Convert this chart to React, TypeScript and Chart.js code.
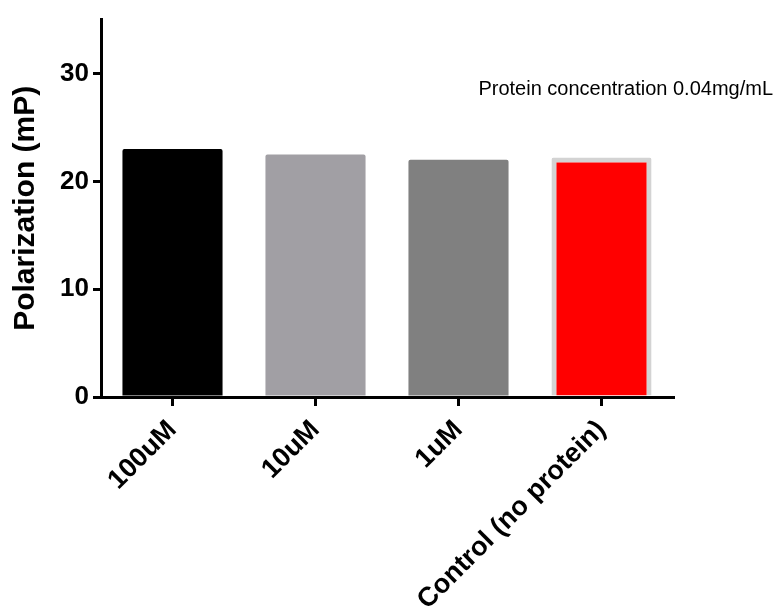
import React, { useEffect, useRef } from "react";
import { Chart, registerables } from "chart.js";

Chart.register(...registerables);

const categories = ["100uM", "10uM", "1uM", "Control (no protein)"];
const values = [23.0, 22.5, 22.0, 22.2];
const barColors = ["#000000", "#a19fa4", "#808080", "#ff0000"];
const barBorderColors = ["#000000", "#a19fa4", "#808080", "#d3d3d3"];
const barBorderWidths = [0, 0, 0, 5];
const yTicks = [0, 10, 20, 30];
const annotationText = "Protein concentration 0.04mg/mL";
const annotationValue = 28.5;

const FONT = "'Liberation Sans', Arial, Helvetica, sans-serif";

export default function App() {
  const ref = useRef<HTMLCanvasElement | null>(null);

  useEffect(() => {
    if (!ref.current) return;
    const annotate = {
      id: "annotate",
      afterDraw(chart: any) {
        const ctx = chart.ctx;
        const y = chart.scales.y.getPixelForValue(annotationValue);
        ctx.save();
        ctx.font = `20px ${FONT}`;
        ctx.fillStyle = "#000";
        ctx.textAlign = "right";
        ctx.textBaseline = "middle";
        ctx.fillText(annotationText, chart.width - 4, y);
        ctx.restore();
      },
    };
    const chart = new Chart(ref.current, {
      type: "bar",
      data: {
        labels: categories,
        datasets: [
          {
            data: values,
            backgroundColor: barColors,
            borderColor: barBorderColors,
            borderWidth: barBorderWidths,
            borderRadius: 2,
            borderSkipped: "start",
            categoryPercentage: 0.7,
            barPercentage: 1,
          },
        ],
      },
      options: {
        animation: false,
        responsive: false,
        maintainAspectRatio: false,
        layout: { padding: { left: 0, right: 104, top: 14, bottom: 0 } },
        plugins: { legend: { display: false }, tooltip: { enabled: false } },
        scales: {
          x: {
            offset: true,
            grid: {
              drawOnChartArea: false,
              drawTicks: true,
              tickLength: 9,
              color: "#000",
              lineWidth: 3,
              offset: false,
            },
            border: { display: true, color: "#000", width: 3 },
            ticks: {
              color: "#000",
              font: { family: FONT, size: 27, weight: "bold" },
              maxRotation: 45,
              minRotation: 45,
              padding: 8,
              autoSkip: false,
            },
            afterFit(scale: any) {
              scale.height = 613 - 397;
            },
          },
          y: {
            min: 0,
            max: 35,
            afterBuildTicks(scale: any) {
              scale.ticks = yTicks.map((v) => ({ value: v }));
            },
            grid: {
              drawOnChartArea: false,
              drawTicks: true,
              tickLength: 8,
              color: "#000",
              lineWidth: 3,
            },
            border: { display: true, color: "#000", width: 3 },
            ticks: {
              color: "#000",
              font: { family: FONT, size: 26, weight: "bold" },
              padding: 4,
            },
            title: {
              display: true,
              text: "Polarization (mP)",
              color: "#000",
              font: { family: FONT, size: 30, weight: "bold" },
              padding: { top: 8, bottom: 0 },
            },
            afterFit(scale: any) {
              scale.width = 101;
            },
          },
        },
      },
      plugins: [annotate],
    });
    return () => chart.destroy();
  }, []);

  return (
    <div style={{ position: "fixed", left: 0, top: 0, width: 777, height: 613, background: "#fff" }}>
      <canvas ref={ref} width={777} height={613} style={{ width: 777, height: 613 }} />
    </div>
  );
}
